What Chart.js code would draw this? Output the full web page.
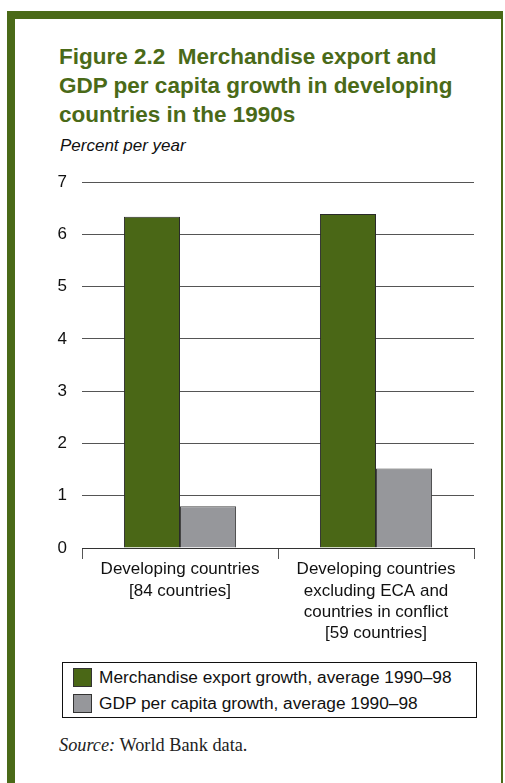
<!DOCTYPE html>
<html>
<head>
<meta charset="utf-8">
<script src="https://cdn.jsdelivr.net/npm/chart.js@4.4.1/dist/chart.umd.min.js"></script>
<style>
  html, body { margin: 0; padding: 0; background: #fff; }
  body { width: 505px; height: 783px; position: relative; overflow: hidden; font-family: "Liberation Sans", Arial, sans-serif; }
  .frame { position: absolute; left: 7px; top: 11px; width: 496px; height: 772px; border-left: 8px solid #4a6a18; border-top: 8px solid #4a6a18; border-right: 2px solid #4a6a18; box-sizing: border-box; }
  .title { position: absolute; left: 59px; top: 42px; width: 440px; color: #4a6a18; font-weight: bold; font-size: 22.5px; line-height: 29px; white-space: nowrap; }
  .unit { position: absolute; left: 60px; top: 136px; font-style: italic; font-size: 17px; color: #111; }
  .chartwrap { position: absolute; left: 0; top: 157px; width: 505px; height: 500px; }
  canvas { display: block; }
  .legend { position: absolute; left: 62px; top: 662px; width: 415px; height: 56px; border: 1px solid #111; box-sizing: border-box; font-size: 17.3px; color: #111; }
  .item { position: absolute; left: 10px; height: 19px; line-height: 19px; white-space: nowrap; }
  .sw { display: inline-block; width: 17px; height: 17px; border: 1px solid #333; vertical-align: top; margin-right: 7px; }
  .source { position: absolute; left: 59px; top: 735px; font-family: "Liberation Serif", "DejaVu Serif", serif; font-size: 18.3px; color: #222; }
</style>
</head>
<body>
<div class="frame"></div>
<div class="title">Figure 2.2&nbsp; Merchandise export and<br>GDP per capita growth in developing<br>countries in the 1990s</div>
<div class="unit">Percent per year</div>
<div class="chartwrap"><canvas id="c" width="505" height="500"></canvas></div>
<div class="legend" id="legend"></div>
<div class="source"><i>Source:</i> World Bank data.</div>
<script>
const categories = [
  ["Developing countries", "[84 countries]"],
  ["Developing countries", "excluding ECA and", "countries in conflict", "[59 countries]"]
];
const seriesNames = ["Merchandise export growth, average 1990\u201398", "GDP per capita growth, average 1990\u201398"];
const exportGrowth = [6.34, 6.39];
const gdpGrowth = [0.80, 1.52];
const yTicks = [0, 1, 2, 3, 4, 5, 6, 7];
const colors = ["#4a6716", "#96979b"];

const legend = document.getElementById('legend');
seriesNames.forEach((n, i) => {
  const d = document.createElement('div');
  d.className = 'item';
  d.style.top = (5 + i * 26) + 'px';
  d.innerHTML = '<span class="sw" style="background:' + colors[i] + '"></span>' + n;
  legend.appendChild(d);
});

new Chart(document.getElementById('c'), {
  type: 'bar',
  data: {
    labels: categories,
    datasets: [
      { label: seriesNames[0], data: exportGrowth, backgroundColor: colors[0], borderColor: '#2a2a2a', borderWidth: 1, barPercentage: 1, categoryPercentage: 0.572 },
      { label: seriesNames[1], data: gdpGrowth, backgroundColor: colors[1], borderColor: '#444', borderWidth: 1, barPercentage: 1, categoryPercentage: 0.572 }
    ]
  },
  options: {
    responsive: false,
    animation: false,
    events: [],
    layout: { padding: { left: 40, right: 31, top: 22, bottom: 13 } },
    plugins: { legend: { display: false }, tooltip: { enabled: false } },
    scales: {
      x: {
        grid: { offset: true, drawOnChartArea: false, drawTicks: true, tickLength: 11, color: '#555', lineWidth: 1 },
        border: { display: true, color: '#333', width: 1 },
        ticks: { color: '#111', font: { family: 'Liberation Sans', size: 17, lineHeight: 1.25 }, padding: 0, maxRotation: 0, autoSkip: false }
      },
      y: {
        min: 0, max: 7,
        afterFit: (s) => { s.width = 42; },
        afterBuildTicks: (s) => { s.ticks = yTicks.map(v => ({ value: v })); },
        grid: { drawTicks: false, color: '#555', lineWidth: 1 },
        border: { display: false },
        ticks: { color: '#111', font: { family: 'Liberation Sans', size: 17 }, padding: 15 }
      }
    }
  }
});
</script>
</body>
</html>
